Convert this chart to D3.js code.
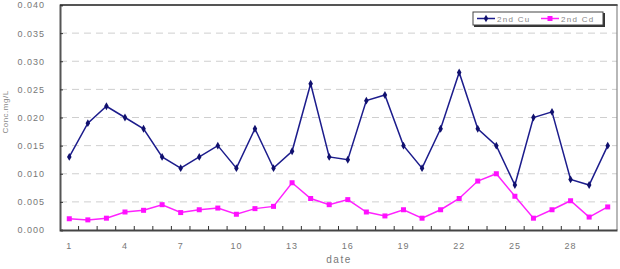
<!DOCTYPE html>
<html><head><meta charset="utf-8">
<script src="https://cdn.jsdelivr.net/npm/d3@7"></script>
<style>body{margin:0;background:#fff}svg{display:block}text{font-family:"Liberation Sans",Arial,sans-serif}</style>
</head><body>
<script>
const dates = d3.range(1, 31);
const cu = [0.013,0.019,0.022,0.020,0.018,0.013,0.011,0.013,0.015,0.011,0.018,0.011,0.014,0.026,0.013,0.0125,0.023,0.024,0.015,0.011,0.018,0.028,0.018,0.015,0.008,0.020,0.021,0.009,0.008,0.015];
const cd = [0.0020,0.0018,0.0021,0.0032,0.0035,0.0045,0.0031,0.0036,0.0039,0.0028,0.0038,0.0042,0.0084,0.0056,0.0045,0.0054,0.0032,0.0025,0.0036,0.0021,0.0036,0.0056,0.0087,0.0100,0.0060,0.0021,0.0036,0.0052,0.0023,0.0041];
const yTicks = [0,0.005,0.010,0.015,0.020,0.025,0.030,0.035,0.040];
const xLabels = [1,4,7,10,13,16,19,22,25,28];
const seriesNames = ["2nd Cu","2nd Cd"];

const W=620,H=269, L=60, R=617, T=5, B=230;
const svg=d3.select("body").append("svg").attr("width",W).attr("height",H);
const x=d3.scaleBand().domain(dates).range([L,R]);
const y=d3.scaleLinear().domain([0,0.04]).range([B,T]);
const cx=d=>x(d)+x.bandwidth()/2;

// grid
svg.append("g").selectAll("line").data(yTicks.filter(v=>v>0&&v<0.04)).join("line")
  .attr("x1",L).attr("x2",R).attr("y1",d=>y(d)).attr("y2",d=>y(d))
  .attr("stroke","#cfcfcf").attr("stroke-width",1).attr("stroke-dasharray","7,5");

svg.append("line").attr("x1",R).attr("x2",R).attr("y1",T).attr("y2",B).attr("stroke","#888").attr("stroke-width",1.2);
svg.append("line").attr("x1",L).attr("x2",R+0.6).attr("y1",T).attr("y2",T).attr("stroke","#555").attr("stroke-width",2);

const ya=svg.append("g").attr("transform",`translate(${L},0)`)
  .call(d3.axisLeft(y).tickValues(yTicks).tickSize(-3).tickPadding(15).tickFormat(d3.format(".3f")));
ya.select(".domain").attr("stroke","#555").attr("stroke-width",2);
ya.selectAll(".tick line").attr("stroke","#333");
ya.selectAll("text").attr("fill","#777").attr("font-size",9).attr("letter-spacing",1);

const xa=svg.append("g").attr("transform",`translate(0,${B})`)
  .call(d3.axisBottom(x).tickValues([]).tickSize(0));
xa.select(".domain").attr("stroke","#444").attr("stroke-width",1.8);
const bounds=d3.range(1,30).map(i=>L+i*x.bandwidth());
svg.append("g").selectAll("line").data(bounds).join("line")
  .attr("x1",d=>d).attr("x2",d=>d).attr("y1",B).attr("y2",B-4).attr("stroke","#333").attr("stroke-width",1);
svg.append("g").selectAll("text").data(xLabels).join("text")
  .attr("x",d=>cx(d)).attr("y",249).attr("text-anchor","middle")
  .attr("fill","#777").attr("font-size",9).attr("letter-spacing",1).text(d=>d);
svg.append("text").attr("x",339).attr("y",263).attr("text-anchor","middle")
  .attr("fill","#777").attr("font-size",10).attr("letter-spacing",1.5).text("date");
svg.append("text").attr("transform","translate(8,112) rotate(-90)").attr("text-anchor","middle")
  .attr("fill","#888").attr("font-size",8).attr("letter-spacing",0.5).text("Conc.mg/L");

const line=d3.line().x((d,i)=>cx(dates[i])).y(d=>y(d));
svg.append("path").datum(cu).attr("d",line).attr("fill","none").attr("stroke","#1c1c8c").attr("stroke-width",1.5);
svg.append("g").selectAll("path").data(cu).join("path")
  .attr("d",d3.symbol(d3.symbolDiamond,18)).attr("transform",(d,i)=>`translate(${cx(dates[i])},${y(d)})`).attr("fill","#10106e");
svg.append("path").datum(cd).attr("d",line).attr("fill","none").attr("stroke","#ff22ff").attr("stroke-width",1.5);
svg.append("g").selectAll("rect").data(cd).join("rect")
  .attr("x",(d,i)=>cx(dates[i])-2.5).attr("y",d=>y(d)-2.5).attr("width",5).attr("height",5).attr("fill","#ff10ff");

const lg=svg.append("g");
lg.append("rect").attr("x",474).attr("y",13).attr("width",131).attr("height",14).attr("fill","#333");
lg.append("rect").attr("x",473).attr("y",12).attr("width",130).attr("height",13).attr("fill","#fff").attr("stroke","#444").attr("stroke-width",1);
lg.append("line").attr("x1",477).attr("x2",495).attr("y1",18.5).attr("y2",18.5).attr("stroke","#1c1c8c").attr("stroke-width",1.5);
lg.append("path").attr("d",d3.symbol(d3.symbolDiamond,16)).attr("transform","translate(486,18.5)").attr("fill","#10106e");
lg.append("text").attr("x",497).attr("y",21.5).attr("font-size",8).attr("fill","#888").attr("letter-spacing",1.3).text(seriesNames[0]);
lg.append("line").attr("x1",541).attr("x2",559).attr("y1",18.5).attr("y2",18.5).attr("stroke","#ff22ff").attr("stroke-width",1.5);
lg.append("rect").attr("x",547.5).attr("y",16).attr("width",5).attr("height",5).attr("fill","#ff10ff");
lg.append("text").attr("x",561).attr("y",21.5).attr("font-size",8).attr("fill","#888").attr("letter-spacing",1.3).text(seriesNames[1]);
</script>
</body></html>
